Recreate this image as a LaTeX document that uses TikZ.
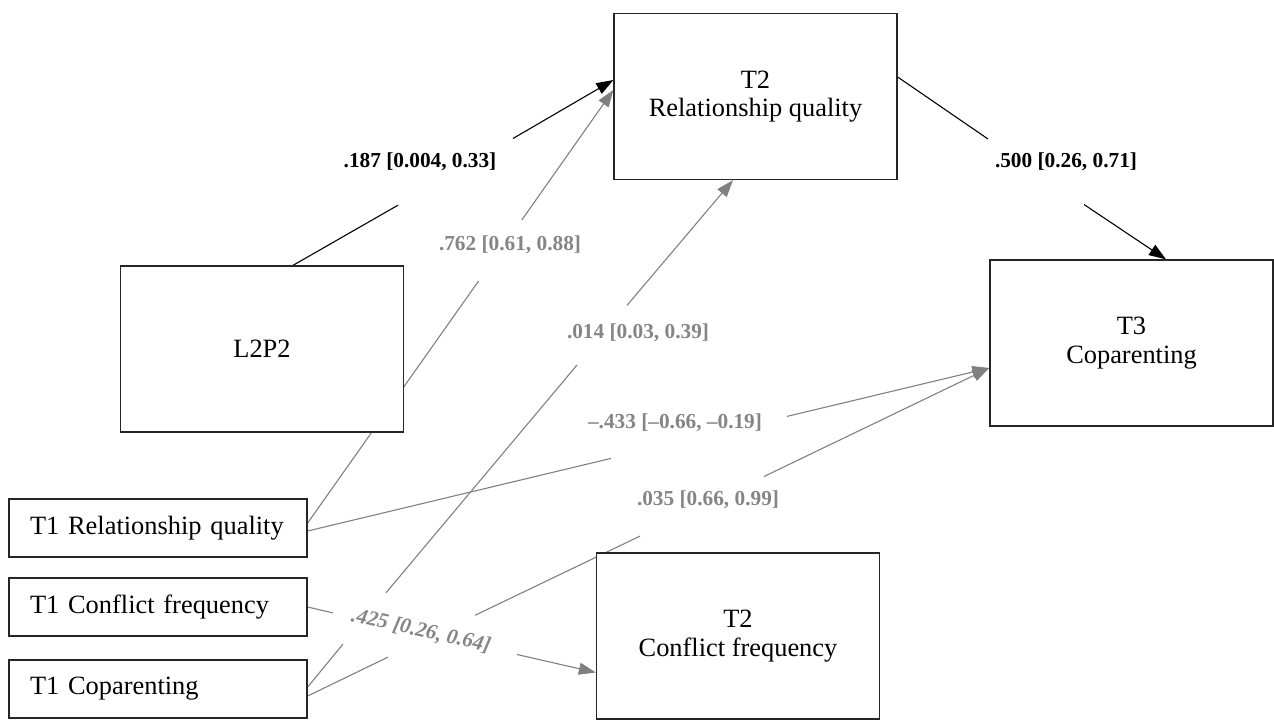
\documentclass[tikz,border=0pt]{standalone}
\usepackage{fontspec}
\setmainfont{Liberation Serif}
\usetikzlibrary{arrows.meta,backgrounds}

\begin{document}
\begin{tikzpicture}[x=1pt,y=-1pt,
  box/.style={draw=black!85, line width=1.3pt, fill=white, inner sep=0pt,
    font=\fontsize{26.4}{28.7}\selectfont},
  bigbox/.style={box, minimum width=283pt, minimum height=166pt, align=center},
  smallbox/.style={box, minimum width=298pt, minimum height=58pt,
    text width=256pt, inner xsep=21pt, align=left},
  lab/.style={font=\fontsize{21.3}{24}\selectfont\bfseries, inner sep=0pt},
  graylab/.style={lab, text=black!48},
  blackpath/.style={draw=black, line width=1.1pt},
  graypath/.style={draw=black!50, line width=1.1pt},
  tip/.style={-{Triangle[length=17pt,width=12pt]}},
]
\useasboundingbox (0,0) rectangle (1274,720);

% variables
\node[bigbox] (t2rq) at (755.5,96.5) {T2\\Relationship quality};
\node[bigbox] (l2p2) at (262,349) {L2P2};
\node[bigbox] (t3) at (1131.5,343) {T3\\Coparenting};
\node[bigbox] (t2cf) at (738,636) {T2\\Conflict frequency};
\node[smallbox] (t1rq) at (158,528) {T1 Relationship quality};
\node[smallbox] (t1cf) at (158,607) {T1 Conflict frequency};
\node[smallbox] (t1cop) at (158,689) {T1 Coparenting};

% path coefficients
\node[lab] (lab187) at (420,162) {.187 [0.004, 0.33]};
\node[graylab] (lab762) at (510,245) {.762 [0.61, 0.88]};
\node[graylab] (lab014) at (638,333) {.014 [0.03, 0.39]};
\node[lab] (lab500) at (1066,162) {.500 [0.26, 0.71]};
\node[graylab] (lab433) at (675,423) {–.433 [–0.66, –0.19]};
\node[graylab] (lab035) at (708,500) {.035 [0.66, 0.99]};
\node[graylab, font=\fontsize{21.3}{24}\selectfont\bfseries\itshape, rotate=-12.7]
  (lab425) at (421,631) {.425 [0.26, 0.64]};

% break points where the paths pass behind the labels
\coordinate (e1a) at (398,205.2);   \coordinate (e1b) at (513,138.5);
\coordinate (e2a) at (478.6,281);   \coordinate (e2b) at (521.8,220);
\coordinate (e3a) at (343,644.1);   \coordinate (e3b) at (386,592.8);
\coordinate (e3c) at (577,365);     \coordinate (e3d) at (627,305.4);
\coordinate (e4a) at (988,139);     \coordinate (e4b) at (1084,204.5);
\coordinate (e5a) at (611,458.4);   \coordinate (e5b) at (787,416.4);
\coordinate (e6a) at (388,657.1);   \coordinate (e6b) at (475,615.3);
\coordinate (e6c) at (640,536.1);   \coordinate (e6d) at (764,476.5);
\coordinate (e7a) at (333,612.9);   \coordinate (e7b) at (517,654.5);

\begin{scope}[on background layer]
  % L2P2 -> T2 relationship quality
  \draw[blackpath] ([xshift=31pt]l2p2.north) -- (e1a);
  \draw[blackpath,tip] (e1b) -- ([yshift=16.5pt]t2rq.west);
  % T2 relationship quality -> T3 coparenting
  \draw[blackpath] ([yshift=19.5pt]t2rq.east) -- (e4a);
  \draw[blackpath,tip] (e4b) -- ([xshift=34.5pt]t3.north);
  % T1 relationship quality -> T2 relationship quality
  \draw[graypath] ([yshift=5pt]t1rq.east) -- (e2a);
  \draw[graypath,tip] (e2b) -- ([yshift=6.5pt]t2rq.west);
  % T1 coparenting -> T2 relationship quality
  \draw[graypath] ([yshift=2pt]t1cop.east) -- (e3a);
  \draw[graypath] (e3b) -- (e3c);
  \draw[graypath,tip] (e3d) -- ([xshift=-22.5pt]t2rq.south);
  % T1 relationship quality -> T3 coparenting
  \draw[graypath] ([yshift=-3pt]t1rq.east) -- (e5a);
  \draw[graypath,tip] (e5b) -- ([yshift=-25pt]t3.west);
  % T1 coparenting -> T3 coparenting
  \draw[graypath] ([yshift=-7pt]t1cop.east) -- (e6a);
  \draw[graypath] (e6b) -- (e6c);
  \draw[graypath,tip] (e6d) -- ([yshift=-25pt]t3.west);
  % T1 conflict frequency -> T2 conflict frequency
  \draw[graypath] (t1cf.east) -- (e7a);
  \draw[graypath,tip] (e7b) -- ([yshift=-36.5pt]t2cf.west);
\end{scope}
\end{tikzpicture}
\end{document}
